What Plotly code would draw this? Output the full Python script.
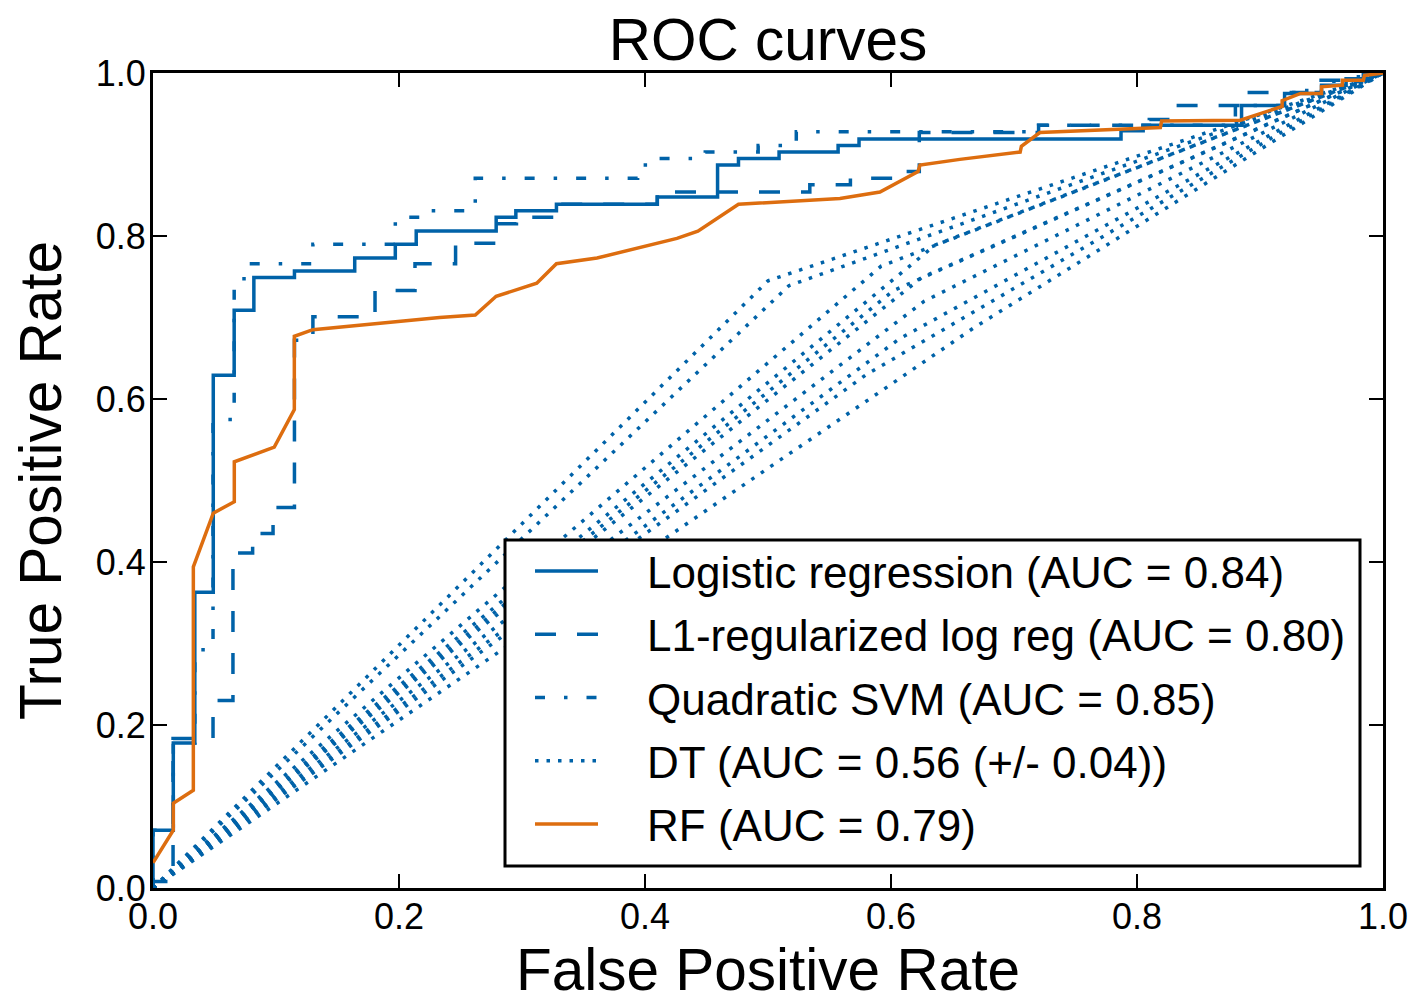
import plotly.graph_objects as go

# ---------------- data ----------------
legend_labels = [
    "Logistic regression (AUC = 0.84)",
    "L1-regularized log reg (AUC = 0.80)",
    "Quadratic SVM (AUC = 0.85)",
    "DT (AUC = 0.56 (+/- 0.04))",
    "RF (AUC = 0.79)",
]

lr_fpr = [0, 0, 0.0165, 0.0165, 0.034, 0.034, 0.049, 0.049, 0.066, 0.066, 0.082, 0.082,
          0.115, 0.115, 0.164, 0.164, 0.197, 0.197, 0.214, 0.214, 0.279, 0.279, 0.295, 0.295,
          0.328, 0.328, 0.410, 0.410, 0.459, 0.459, 0.476, 0.476, 0.509, 0.509, 0.557, 0.557,
          0.574, 0.574, 0.787, 0.787, 0.805, 0.805, 0.885, 0.885, 0.92, 0.92, 0.95, 0.95,
          0.97, 0.97, 0.99, 0.99, 1.0]
lr_tpr = [0, 0.071, 0.071, 0.178, 0.178, 0.363, 0.363, 0.629, 0.629, 0.709, 0.709, 0.749,
          0.749, 0.757, 0.757, 0.773, 0.773, 0.790, 0.790, 0.806, 0.806, 0.823, 0.823, 0.831,
          0.831, 0.839, 0.839, 0.848, 0.848, 0.887, 0.887, 0.895, 0.895, 0.903, 0.903, 0.911,
          0.911, 0.919, 0.919, 0.929, 0.929, 0.936, 0.936, 0.960, 0.960, 0.975, 0.975, 0.985,
          0.985, 0.993, 0.993, 1.0, 1.0]

l1_fpr = [0, 0, 0.0163, 0.0163, 0.0488, 0.0488, 0.065, 0.065, 0.081, 0.081, 0.0976, 0.0976,
          0.115, 0.115, 0.130, 0.130, 0.1805, 0.1805, 0.213, 0.213, 0.246, 0.246, 0.279, 0.279,
          0.2955, 0.2955, 0.328, 0.328, 0.410, 0.410, 0.534, 0.534, 0.567, 0.567, 0.606, 0.606,
          0.623, 0.623, 0.720, 0.720, 0.810, 0.810, 0.830, 0.830, 0.885, 0.885, 0.938, 0.938,
          0.984, 0.984, 1.0]
l1_tpr = [0, 0.008, 0.008, 0.1835, 0.1835, 0.230, 0.230, 0.411, 0.411, 0.435, 0.435, 0.467,
          0.467, 0.672, 0.672, 0.701, 0.701, 0.733, 0.733, 0.766, 0.766, 0.791, 0.791, 0.815,
          0.815, 0.823, 0.823, 0.839, 0.839, 0.854, 0.854, 0.863, 0.863, 0.871, 0.871, 0.879,
          0.879, 0.927, 0.927, 0.936, 0.936, 0.943, 0.943, 0.960, 0.960, 0.976, 0.976, 0.991,
          0.991, 1.0, 1.0]

svm_fpr = [0, 0, 0.0165, 0.0165, 0.034, 0.034, 0.0407, 0.0407, 0.0488, 0.0488, 0.066, 0.066,
           0.074, 0.074, 0.130, 0.130, 0.197, 0.197, 0.228, 0.228, 0.262, 0.262, 0.394, 0.394,
           0.410, 0.410, 0.449, 0.449, 0.492, 0.492, 0.523, 0.523, 0.720, 0.720, 0.880, 0.880,
           0.920, 0.920, 0.950, 0.950, 0.980, 0.980, 1.0]
svm_tpr = [0, 0.071, 0.071, 0.178, 0.178, 0.285, 0.285, 0.300, 0.300, 0.575, 0.575, 0.738,
           0.738, 0.766, 0.766, 0.790, 0.790, 0.823, 0.823, 0.831, 0.831, 0.871, 0.871, 0.887,
           0.887, 0.895, 0.895, 0.903, 0.903, 0.911, 0.911, 0.928, 0.928, 0.936, 0.936, 0.960,
           0.960, 0.976, 0.976, 0.990, 0.990, 1.0, 1.0]

# decision tree: one ROC per CV fold (origin, operating point, (1,1))
dt_fold_fpr = [[0, 0.500, 1], [0, 0.517, 1], [0, 0.592, 1], [0, 0.636, 1], [0, 0.602, 1],
               [0, 0.625, 1], [0, 0.627, 1], [0, 0.607, 1], [0, 0.580, 1], [0, 0.667, 1]]
dt_fold_tpr = [[0, 0.745, 1], [0, 0.739, 1], [0, 0.763, 1], [0, 0.789, 1], [0, 0.733, 1],
               [0, 0.749, 1], [0, 0.720, 1], [0, 0.674, 1], [0, 0.630, 1], [0, 0.687, 1]]

rf_fpr = [0, 0.0165, 0.0165, 0.0328, 0.0328, 0.049, 0.0661, 0.0661, 0.0986, 0.1149, 0.1149,
          0.130, 0.233, 0.262, 0.279, 0.312, 0.328, 0.361, 0.426, 0.443, 0.476, 0.5585, 0.591,
          0.622, 0.6236, 0.656, 0.705, 0.706, 0.721, 0.819, 0.820, 0.884, 0.918, 0.918, 0.933,
          0.950, 0.950, 0.967, 0.967, 0.984, 0.985, 1.0]
rf_tpr = [0.031, 0.071, 0.104, 0.120, 0.394, 0.460, 0.474, 0.523, 0.541, 0.587, 0.677,
          0.685, 0.700, 0.703, 0.726, 0.742, 0.766, 0.773, 0.797, 0.806, 0.839, 0.846, 0.854,
          0.879, 0.887, 0.894, 0.903, 0.910, 0.927, 0.933, 0.941, 0.942, 0.959, 0.966, 0.975,
          0.975, 0.983, 0.985, 0.991, 0.991, 0.997, 1.0]

tick_vals = [0.0, 0.2, 0.4, 0.6, 0.8, 1.0]
tick_text = ["0.0", "0.2", "0.4", "0.6", "0.8", "1.0"]

# ---------------- styling ----------------
BLUE = "#0062A8"
ORANGE = "#DD6D0F"
FONT = "Liberation Sans, Arial, Helvetica, sans-serif"
LW = 3.5
GAP = "\u2002\u2002"   # spacing between legend sample and its text

# the page body adds an 8px margin, so the figure is 8px smaller than the window
W, H = 1408, 995

fig = go.Figure()
fig.add_trace(go.Scatter(x=lr_fpr, y=lr_tpr, mode="lines", name=GAP + legend_labels[0],
                         legendgroup="lr", line=dict(color=BLUE, width=LW)))
fig.add_trace(go.Scatter(x=l1_fpr, y=l1_tpr, mode="lines", name=GAP + legend_labels[1],
                         legendgroup="l1", line=dict(color=BLUE, width=LW, dash="21px,21px")))
fig.add_trace(go.Scatter(x=svm_fpr, y=svm_tpr, mode="lines", name=GAP + legend_labels[2],
                         legendgroup="svm",
                         line=dict(color=BLUE, width=LW, dash="10px,19px,3.5px,19px")))
for i, (fx, fy) in enumerate(zip(dt_fold_fpr, dt_fold_tpr)):
    fig.add_trace(go.Scatter(x=fx, y=fy, mode="lines", name=GAP + legend_labels[3],
                             legendgroup="dt", showlegend=(i == 0),
                             line=dict(color=BLUE, width=LW, dash="3.5px,8px")))
fig.add_trace(go.Scatter(x=rf_fpr, y=rf_tpr, mode="lines", name=GAP + legend_labels[4],
                         legendgroup="rf", line=dict(color=ORANGE, width=LW)))

axis_common = dict(
    range=[0, 1], tickvals=tick_vals, ticktext=tick_text,
    ticks="inside", ticklen=14, tickwidth=2, tickcolor="black",
    showline=True, linewidth=3, linecolor="black", mirror="ticks",
    showgrid=False, zeroline=False, automargin=False,
    tickfont=dict(size=36, family=FONT, color="black"),
)

fig.update_layout(
    width=W, height=H,
    margin=dict(l=145, r=33, t=65, b=115),
    plot_bgcolor="white", paper_bgcolor="white",
    font=dict(family=FONT, color="black"),
    title=dict(text="ROC curves", x=0.5, xref="paper", xanchor="center",
               y=1 - 32 / H, yref="container", yanchor="middle",
               font=dict(size=58.5, family=FONT, color="black")),
    xaxis=dict(**axis_common, title=dict(text="False Positive Rate",
               font=dict(size=58.5, family=FONT, color="black"), standoff=13),
               ticklabelstandoff=-5),
    yaxis=dict(**axis_common, title=dict(text="True Positive Rate",
               font=dict(size=58.5, family=FONT, color="black"), standoff=18),
               ticklabelstandoff=-3),
    legend=dict(x=(530 - 153) / 1230, y=(888 - 536) / 815, xanchor="left", yanchor="top",
                bgcolor="rgba(0,0,0,0)", borderwidth=0,
                font=dict(size=44, family=FONT, color="black"),
                itemwidth=63, tracegroupgap=3, traceorder="grouped"),
    showlegend=True,
    shapes=[dict(type="rect", xref="paper", yref="paper",
                 x0=(505 - 153) / 1230, x1=(1360 - 153) / 1230,
                 y0=(888 - 866) / 815, y1=(888 - 540) / 815,
                 line=dict(color="black", width=3), fillcolor="white", layer="above")],
)

fig.write_html("out.html")
